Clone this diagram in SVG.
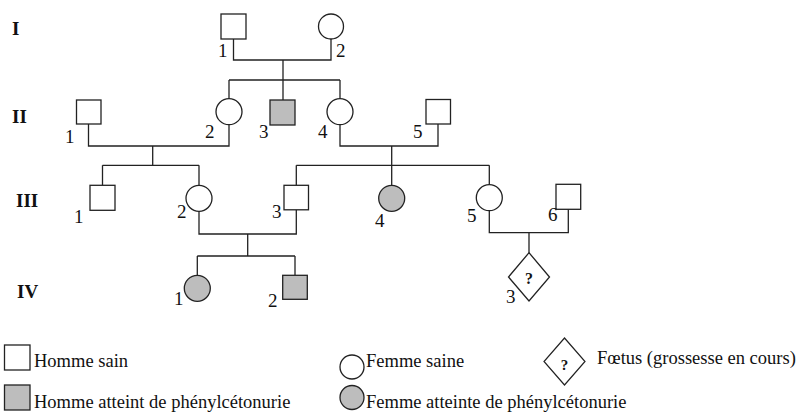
<svg xmlns="http://www.w3.org/2000/svg" width="801" height="412" viewBox="0 0 801 412">
<style>
.n{fill:#fff;stroke:#222;stroke-width:1.3}
.a{fill:#bdbdbd;stroke:#222;stroke-width:1.3}
.c{fill:none;stroke:#222;stroke-width:1.3}
text{font-family:"Liberation Serif","Times New Roman",serif;fill:#111}
.g{font-size:19px;font-weight:bold}
.l{font-size:19px}
.q{font-weight:bold;text-anchor:middle}
.t{font-size:18.5px}
</style>
<rect width="801" height="412" fill="#fff"/>
<g id="gen-labels">
<text class="g" x="12" y="35">I</text>
<text class="g" x="12" y="123">II</text>
<text class="g" x="16" y="207">III</text>
<text class="g" x="17" y="298">IV</text>
</g>
<g id="connectors">
<path class="c" d="M233.5 39V60H331V39M283 60V80M229 80H340M229 80V98.7M283 80V100M340 80V98.7"/>
<path class="c" d="M88.5 124V146H229V124.7M152.7 146V165.3M102.5 165.3H199M102.5 165.3V185.3M199 165.3V185.3"/>
<path class="c" d="M340 124.7V146H438V124M391.7 146V165.3M296.3 165.3H489.3M296.3 165.3V185.3M391.7 165.3V185.3M489.3 165.3V184.7"/>
<path class="c" d="M199 211.3V234H296.3V209.8M247.7 234V256M197.3 256H295M197.3 256V275.3M295 256V275.3"/>
<path class="c" d="M489.3 210.7V232.7H568.3V209.3M529 232.7V252.7"/>
</g>
<g id="I-1"><rect class="n" x="221" y="14" width="25" height="25"/><text class="l" x="218" y="57">1</text></g>
<g id="I-2"><circle class="n" cx="331" cy="26.5" r="12.5"/><text class="l" x="336" y="57">2</text></g>
<g id="II-1"><rect class="n" x="76.5" y="100" width="24.5" height="24"/><text class="l" x="65" y="143">1</text></g>
<g id="II-2"><circle class="n" cx="229" cy="111.7" r="13"/><text class="l" x="205" y="138">2</text></g>
<g id="II-3"><rect class="a" x="270" y="100" width="25" height="25"/><text class="l" x="259" y="138">3</text></g>
<g id="II-4"><circle class="n" cx="340" cy="111.7" r="13"/><text class="l" x="318" y="138">4</text></g>
<g id="II-5"><rect class="n" x="426" y="99.5" width="24.5" height="24.5"/><text class="l" x="413" y="138">5</text></g>
<g id="III-1"><rect class="n" x="90" y="185.3" width="25" height="25"/><text class="l" x="74" y="223">1</text></g>
<g id="III-2"><circle class="n" cx="199" cy="198.3" r="13"/><text class="l" x="177" y="218">2</text></g>
<g id="III-3"><rect class="n" x="284" y="185.3" width="24.5" height="24.5"/><text class="l" x="272" y="218">3</text></g>
<g id="III-4"><circle class="a" cx="391.7" cy="198.3" r="13"/><text class="l" x="375" y="227">4</text></g>
<g id="III-5"><circle class="n" cx="489.3" cy="197.7" r="13"/><text class="l" x="467" y="222">5</text></g>
<g id="III-6"><rect class="n" x="556" y="184.3" width="24.7" height="25"/><text class="l" x="548" y="221">6</text></g>
<g id="IV-1"><circle class="a" cx="197.3" cy="288.3" r="13"/><text class="l" x="174" y="305">1</text></g>
<g id="IV-2"><rect class="a" x="282.7" y="275.3" width="24.6" height="24"/><text class="l" x="268" y="307">2</text></g>
<g id="IV-3"><polygon class="n" points="529,252.7 549.5,277 529,301 508.5,277"/><text class="q" style="font-size:16px" x="529" y="284">?</text><text class="l" x="506" y="303">3</text></g>
<g id="legend">
<rect class="n" x="4.5" y="345" width="25.5" height="25"/><text class="t" x="34" y="366.5">Homme sain</text>
<rect class="a" x="4.5" y="385" width="25.5" height="25"/><text class="t" x="34" y="407.5">Homme atteint de phénylcétonurie</text>
<circle class="n" cx="352" cy="367" r="12"/><text class="t" x="366" y="366.5">Femme saine</text>
<circle class="a" cx="352" cy="397.5" r="12"/><text class="t" x="366" y="408">Femme atteinte de phénylcétonurie</text>
<polygon class="n" points="564.5,338 585,361.5 564.5,385 544,361.5" style="stroke-width:1.2"/><text class="q" style="font-size:15px" x="564.5" y="370">?</text><text class="t" x="597" y="363.5">Fœtus (grossesse en cours)</text>
</g>
</svg>
